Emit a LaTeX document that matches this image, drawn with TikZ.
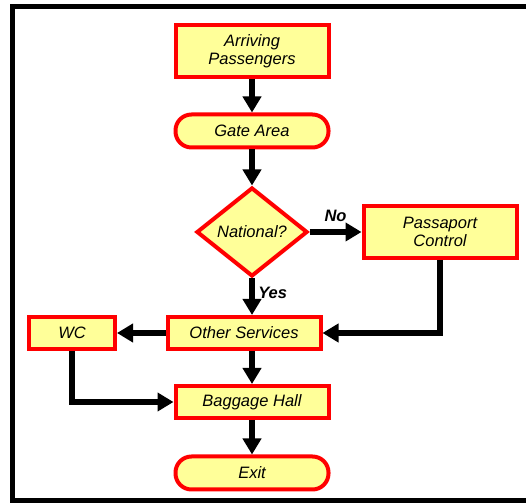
\documentclass[tikz,border=0pt]{standalone}
\usepackage{xcolor}
\usepackage{fontspec}
\setmainfont{Liberation Sans}
\usepackage{tikz}
\usetikzlibrary{shapes,arrows.meta,positioning}

\definecolor{boxyellow}{RGB}{255,255,153}
\definecolor{boxred}{RGB}{255,0,0}

\begin{document}
\begin{tikzpicture}[x=1pt,y=1pt,node distance=80pt]

\tikzstyle{process} = [rectangle, minimum width=153pt, minimum height=52pt, text centered, align=center, draw=boxred, line width=4pt, fill=boxyellow, font=\itshape\fontsize{16.5}{18}\selectfont]
\tikzstyle{smallbox} = [process, minimum height=32pt]
\tikzstyle{terminal} = [process, minimum height=33pt, rounded corners=16pt]
\tikzstyle{decision} = [diamond, minimum width=111pt, minimum height=89pt, inner sep=0pt, text centered, draw=boxred, line width=4pt, fill=boxyellow, font=\itshape\fontsize{16.5}{18}\selectfont]
\tikzstyle{arrow} = [line width=6pt, -{Triangle[width=18pt,length=16pt]}]
\tikzstyle{answer} = [font=\bfseries\itshape\fontsize{16.5}{18}\selectfont]

\useasboundingbox (0,0) rectangle (526,502);
\draw [line width=5pt] (530,495.5) -- (12.5,495.5) -- (12.5,1.5) -- (530,1.5);

\node (arriving) [process] at (252,451) {Arriving\\Passengers};
\node (gate) [terminal, below of=arriving] {Gate Area};
\node (national) [decision, below of=gate, yshift=-21pt] {National?};
\node (passport) [process, right of=national, xshift=108pt] {Passaport\\Control};
\node (other) [smallbox, below of=national, yshift=-21pt, xshift=-8pt] {Other Services};
\node (wc) [smallbox, minimum width=86pt, left of=other, xshift=-92pt] {WC};
\node (baggage) [smallbox, below of=other, yshift=11pt, xshift=8pt] {Baggage Hall};
\node (exit) [terminal, below of=baggage, yshift=9pt] {Exit};

\draw [arrow] (arriving) -- (gate);
\draw [arrow] (gate) -- (national);
\draw [arrow] (national) -- node[answer, anchor=south, yshift=4pt] {No} (passport);
\draw [arrow] (national) -- node[answer, anchor=west, pos=0.4] {Yes} (national |- other.north);
\draw [arrow] (passport) |- (other);
\draw [arrow] (other) -- (wc);
\draw [arrow] (other.south -| baggage) -- (baggage);
\draw [arrow] (wc) |- (baggage);
\draw [arrow] (baggage) -- (exit);

\end{tikzpicture}
\end{document}
